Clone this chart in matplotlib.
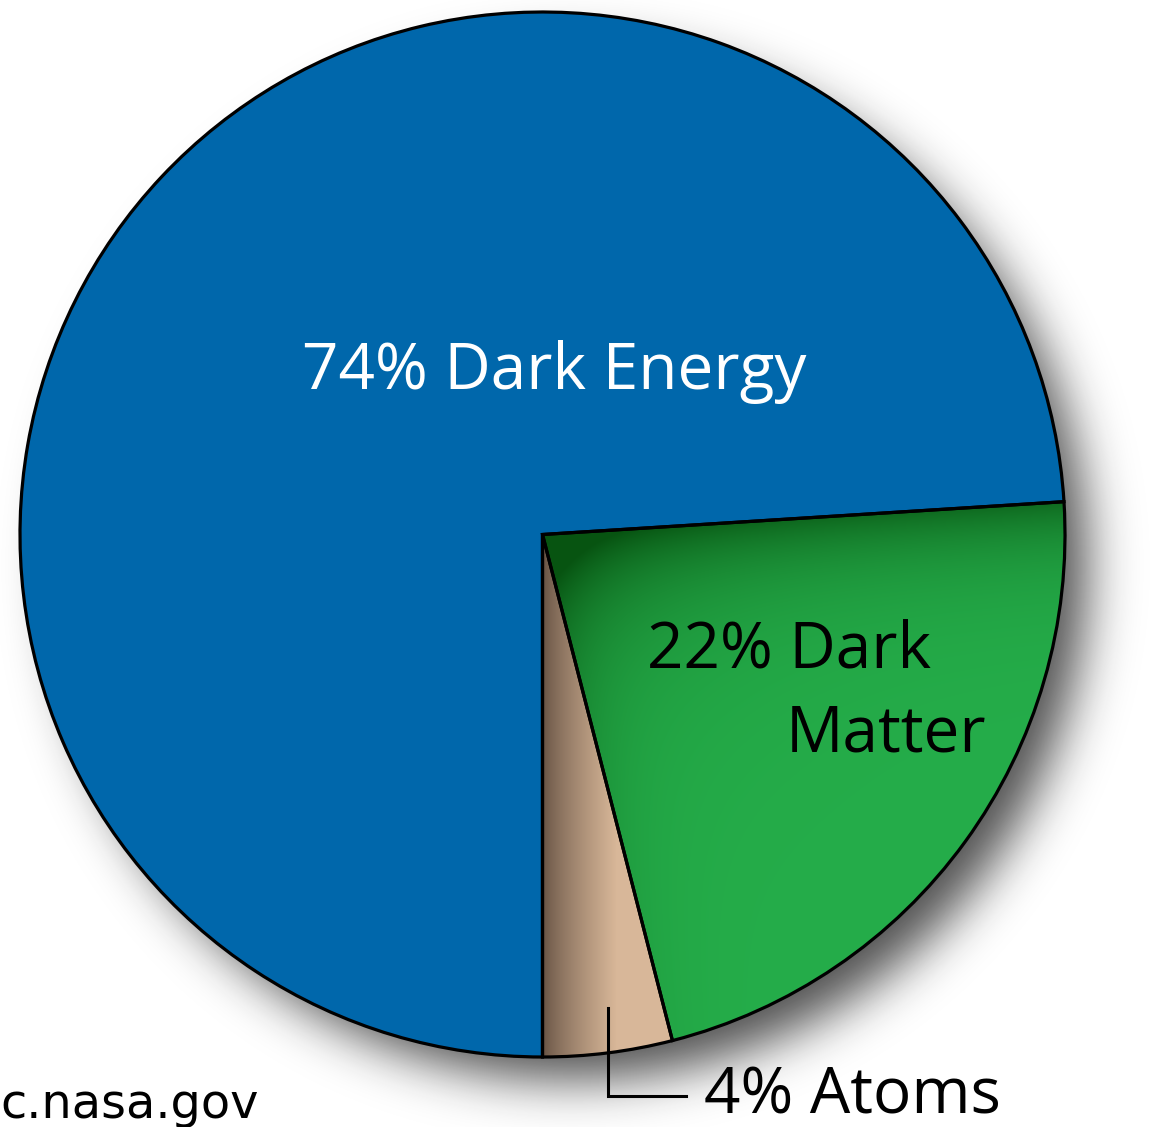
import math
import numpy as np
import matplotlib
matplotlib.use("Agg")
import matplotlib.pyplot as plt

# Composition of the universe
labels = ["Atoms", "Dark Matter", "Dark Energy"]
shares = [4, 22, 74]
colors = ["#D9B89A", "#24AD4A", "#0067AB"]
source = "c.nasa.gov"

W, H = 1165, 1127
cx, cy, R = 542.5, 534.5, 522.5          # pie centre / radius in pixel space (y down)

def Y(y):
    return H - y

def erf(x):
    # Abramowitz & Stegun 7.1.26
    s = np.sign(x)
    x = np.abs(x)
    t = 1.0 / (1.0 + 0.3275911 * x)
    poly = t * (0.254829592 + t * (-0.284496736 + t * (1.421413741
                + t * (-1.453152027 + t * 1.061405429))))
    return s * (1.0 - poly * np.exp(-x * x))

fig = plt.figure(figsize=(W / 100, H / 100), dpi=100)
ax = fig.add_axes([0, 0, 1, 1])
ax.set_xlim(0, W)
ax.set_ylim(0, H)
ax.axis("off")

# gaussian-blurred drop shadow below and to the right of the disc
yy, xx = np.mgrid[0:H, 0:W] + 0.5
rr = np.hypot(xx - (cx + 30), yy - (cy + 31))
sigma = 25.0
shadow_a = 0.75 * 0.5 * (1 - erf((rr - (R - 9)) / (sigma * math.sqrt(2))))
shadow = np.zeros((H, W, 4))
shadow[..., :3] = 0.08
shadow[..., 3] = shadow_a
ax.imshow(shadow, extent=(0, W, 0, H), origin="upper", zorder=0,
          interpolation="nearest")

wedges, _ = ax.pie(shares, colors=colors, startangle=270, counterclock=True,
                   center=(cx, Y(cy)), radius=R, frame=True,
                   wedgeprops=dict(linewidth=0))
for w in wedges:
    w.set_zorder(2)

# shading for the Atoms wedge: brown on the left fading to tan
tan_light = np.array([0.85, 0.72, 0.60])
tan_dark = np.array([0.42, 0.34, 0.28])
t = np.clip((xx - 545) / 72.0, 0, 1) ** 0.8
tan_img = tan_dark + (tan_light - tan_dark) * t[..., None]
im1 = ax.imshow(tan_img, extent=(0, W, 0, H), origin="upper", zorder=3, interpolation="bilinear")
im1.set_clip_path(wedges[0])

# shading for the Dark Matter wedge: darker along the upper edge and near the centre
a_top = math.radians(270 + 360 * (shares[0] + shares[1]) / 100)
a_left = math.radians(270 + 360 * shares[0] / 100)
ux, uy = math.cos(a_top), -math.sin(a_top)
vx, vy = math.cos(a_left), -math.sin(a_left)
dx, dy = xx - cx, yy - cy
d_top = np.abs(dx * uy - dy * ux)
d_left = np.abs(dx * vy - dy * vx)
r0 = np.hypot(dx, dy)
shade = np.clip(0.75 * np.exp(-d_top / 50.0)
                + 0.45 * np.exp(-d_left / 40.0) * np.exp(-r0 / 300.0)
                + 0.5 * np.exp(-r0 / 110.0), 0, 1)
g_base = np.array([0.145, 0.68, 0.29])
g_dark = np.array([0.03, 0.33, 0.07])
green_img = g_base + (g_dark - g_base) * shade[..., None]
im2 = ax.imshow(green_img, extent=(0, W, 0, H), origin="upper", zorder=3, interpolation="bilinear")
im2.set_clip_path(wedges[1])

# outlines on top of the shading
edges, _ = ax.pie(shares, startangle=270, counterclock=True, center=(cx, Y(cy)),
                  radius=R, frame=True,
                  wedgeprops=dict(fill=False, edgecolor="black", linewidth=2.3))
for e in edges:
    e.set_zorder(4)

ax.set_xlim(0, W)
ax.set_ylim(0, H)
ax.set_aspect("equal")
ax.axis("off")

font = "Open Sans"
fs = 46
ax.text(554, Y(389), f"{shares[2]}% Dark Energy", color="white", fontsize=fs,
        family=font, ha="center", va="baseline", zorder=5)
ax.text(647, Y(668), f"{shares[1]}% Dark", color="black", fontsize=fs,
        family=font, ha="left", va="baseline", zorder=5)
ax.text(786, Y(752), "Matter", color="black", fontsize=fs,
        family=font, ha="left", va="baseline", zorder=5)
ax.text(704, Y(1113), f"{shares[0]}% Atoms", color="black", fontsize=fs,
        family=font, ha="left", va="baseline", zorder=5)

# leader line for the Atoms label
ax.plot([608, 608, 686], [Y(1008), Y(1096), Y(1096)], color="black", lw=2.2,
        solid_joinstyle="miter", zorder=5)

ax.text(0, Y(1118), source, color="black", fontsize=34.5, family="DejaVu Sans",
        ha="left", va="baseline", zorder=5)

fig.savefig("out.png", dpi=100)
